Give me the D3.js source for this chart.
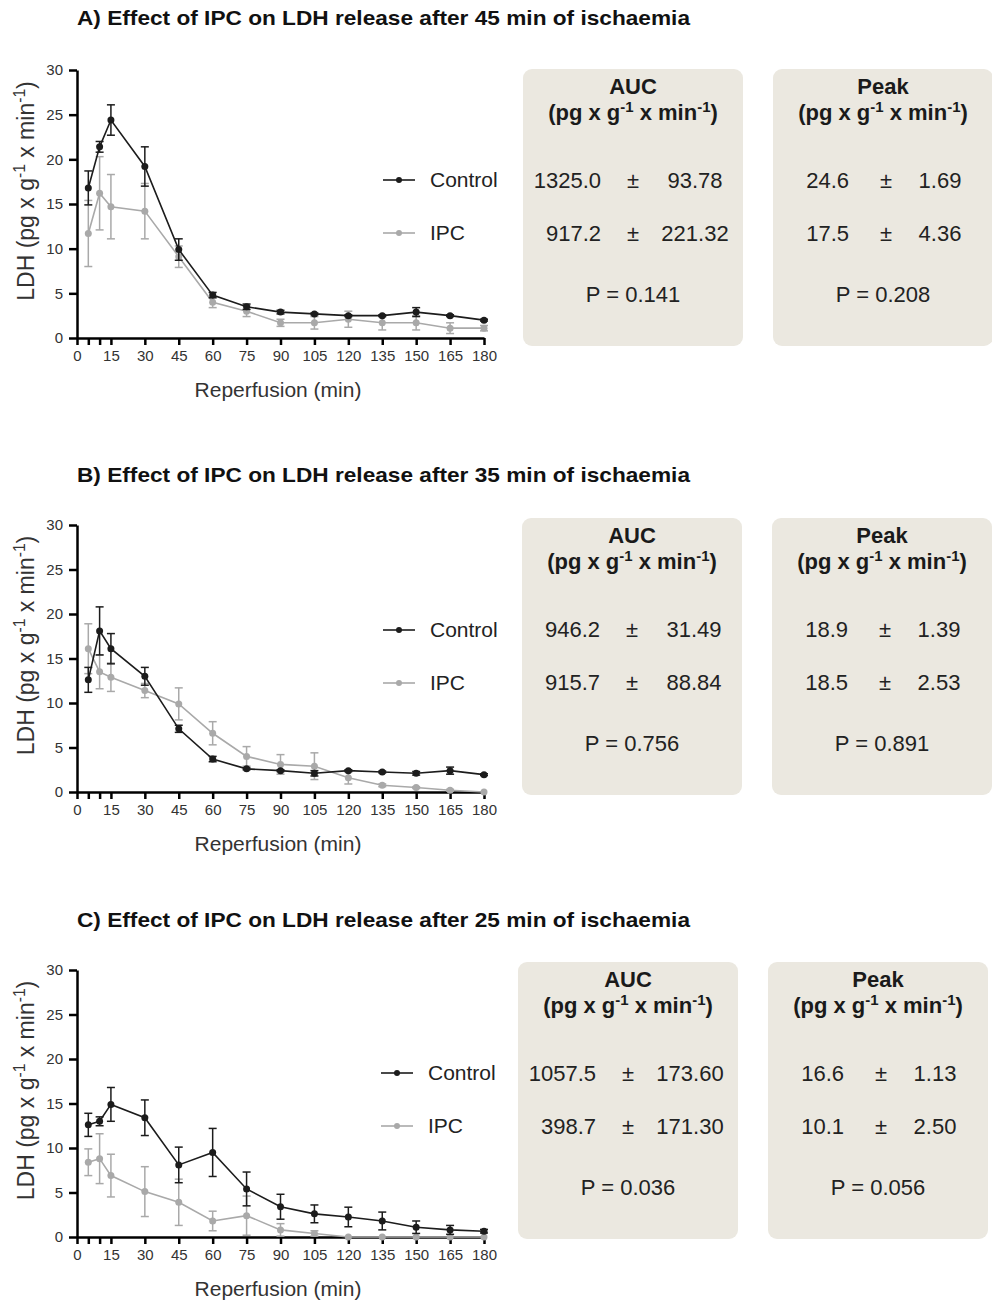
<!DOCTYPE html>
<html>
<head>
<meta charset="utf-8">
<script src="https://cdn.jsdelivr.net/npm/d3@7"></script>
<style>
body { margin: 0; background: #fff; }
text { font-family: "Liberation Sans", Arial, sans-serif; }
</style>
</head>
<body>
<svg id="fig" width="992" height="1304"></svg>
<script>
// reperfusion sampling times (min)
var times = [5, 10, 15, 30, 45, 60, 75, 90, 105, 120, 135, 150, 165, 180];
var xTicks = [0, 5, 10, 15, 30, 45, 60, 75, 90, 105, 120, 135, 150, 165, 180];
var yTicks = [0, 5, 10, 15, 20, 25, 30];

var titles = [
	"A) Effect of IPC on LDH release after 45 min of ischaemia",
	"B) Effect of IPC on LDH release after 35 min of ischaemia",
	"C) Effect of IPC on LDH release after 25 min of ischaemia"
];
var groups = ["Control", "IPC"];

// LDH, mean and SEM
var ctrl45 = [16.8, 21.4, 24.4, 19.2, 9.9, 4.8, 3.5, 2.9, 2.7, 2.5, 2.5, 2.9, 2.5, 2.0];
var ctrl45Sem = [1.9, 0.6, 1.7, 2.2, 1.2, 0.3, 0.3, 0.2, 0.1, 0.1, 0.1, 0.5, 0.1, 0.1];
var ipc45 = [11.7, 16.2, 14.7, 14.2, 9.1, 4.0, 3.0, 1.7, 1.7, 2.1, 1.7, 1.7, 1.1, 1.1];
var ipc45Sem = [3.7, 4.1, 3.6, 3.1, 1.2, 0.6, 0.6, 0.4, 0.7, 0.9, 0.8, 0.8, 0.6, 0.3];

var ctrl35 = [12.6, 18.1, 16.1, 13.0, 7.1, 3.7, 2.6, 2.4, 2.1, 2.4, 2.25, 2.1, 2.4, 1.95];
var ctrl35Sem = [1.4, 2.7, 1.7, 1.0, 0.4, 0.3, 0.1, 0.1, 0.3, 0.1, 0.1, 0.2, 0.4, 0.1];
var ipc35 = [16.1, 13.5, 12.9, 11.4, 9.9, 6.6, 4.0, 3.1, 2.9, 1.6, 0.75, 0.5, 0.2, 0.0];
var ipc35Sem = [2.8, 1.9, 1.6, 0.8, 1.8, 1.3, 1.1, 1.1, 1.5, 0.7, 0.15, 0.1, 0.1, 0];

var ctrl25 = [12.6, 13.0, 14.9, 13.4, 8.1, 9.5, 5.4, 3.4, 2.6, 2.25, 1.8, 1.1, 0.8, 0.65];
var ctrl25Sem = [1.3, 0.5, 1.9, 2.0, 2.0, 2.7, 1.9, 1.4, 1.0, 1.1, 1.0, 0.7, 0.5, 0.2];
var ipc25 = [8.4, 8.8, 6.9, 5.1, 3.9, 1.8, 2.4, 0.8, 0.4, 0.0, 0.0, 0.0, 0.0, 0.0];
var ipc25Sem = [1.5, 2.8, 2.4, 2.8, 2.6, 1.1, 2.2, 0.7, 0.3, 0, 0, 0, 0, 0];

// summary tables (AUC and peak, mean ± SEM, P values)
var aucCtrl = [1325.0, 946.2, 1057.5];
var aucCtrlSem = [93.78, 31.49, 173.60];
var aucIpc = [917.2, 915.7, 398.7];
var aucIpcSem = [221.32, 88.84, 171.30];
var aucP = [0.141, 0.756, 0.036];
var peakCtrl = [24.6, 18.9, 16.6];
var peakCtrlSem = [1.69, 1.39, 1.13];
var peakIpc = [17.5, 18.5, 10.1];
var peakIpcSem = [4.36, 2.53, 2.50];
var peakP = [0.208, 0.891, 0.056];

var series = [
	[[ipc45, ipc45Sem], [ctrl45, ctrl45Sem]],
	[[ipc35, ipc35Sem], [ctrl35, ctrl35Sem]],
	[[ipc25, ipc25Sem], [ctrl25, ctrl25Sem]]
];

// page layout
var panels = [
	{ titleY: 25, top: 70, bottom: 338, legendY: 180, boxY: 69, aucX: 523, peakX: 773 },
	{ titleY: 482, top: 525, bottom: 792, legendY: 630, boxY: 518, aucX: 522, peakX: 772 },
	{ titleY: 927, top: 970, bottom: 1237, legendY: 1073, boxY: 962, aucX: 518, peakX: 768 }
];
var colors = ["#a9a9a9", "#1c1c1c"]; // IPC, Control

var svg = d3.select("#fig");
svg.append("rect").attr("width", 992).attr("height", 1304).attr("fill", "#fff");

var x = d3.scaleLinear().domain([0, 180]).range([77, 484]);
var f1 = d3.format(".1f"), f2 = d3.format(".2f"), f3 = d3.format(".3f");

// text with superscript -1 parts
function unitText(sel, parts, size) {
	parts.forEach(function (p) {
		if (p[1]) {
			sel.append("tspan").attr("font-size", size * 0.68).attr("dy", -size * 0.38).text(p[0]);
		} else {
			var t = sel.append("tspan").text(p[0]);
			if (p[2]) t.attr("dy", size * 0.38);
		}
	});
}
var unitParts = [["(pg x g", 0], ["-1", 1], [" x min", 0, 1], ["-1", 1], [")", 0, 1]];

panels.forEach(function (p, i) {
	var g = svg.append("g");
	var y = d3.scaleLinear().domain([0, 30]).range([p.bottom, p.top]);

	g.append("text")
		.attr("x", 77).attr("y", p.titleY)
		.style("font-family", "'Liberation Sans Narrow', 'Arial Narrow', 'Liberation Sans', sans-serif")
		.attr("font-weight", "bold").attr("font-size", 21)
		.attr("textLength", 613).attr("lengthAdjust", "spacingAndGlyphs")
		.attr("fill", "#111")
		.text(titles[i]);

	// axes
	var xAxis = d3.axisBottom(x).tickValues(xTicks).tickSize(7).tickPadding(5).tickSizeOuter(0)
		.tickFormat(function (d) { return (d === 5 || d === 10) ? "" : d; });
	var yAxis = d3.axisLeft(y).tickValues(yTicks).tickSize(8).tickPadding(6).tickSizeOuter(0);

	var gx = g.append("g").attr("transform", "translate(0," + p.bottom + ")").call(xAxis);
	var gy = g.append("g").attr("transform", "translate(77,0)").call(yAxis);
	[gx, gy].forEach(function (a) {
		a.select(".domain").attr("stroke", "#000").attr("stroke-width", 2.5);
		a.selectAll(".tick line").attr("stroke", "#000").attr("stroke-width", 2.5);
		a.selectAll(".tick text").attr("font-size", 15).attr("fill", "#333")
			.style("font-family", "'Liberation Sans', Arial, sans-serif");
	});

	g.append("text")
		.attr("x", 278).attr("y", p.bottom + 59)
		.attr("text-anchor", "middle").attr("font-size", 21).attr("fill", "#333")
		.text("Reperfusion (min)");

	var yl = g.append("text")
		.attr("transform", "translate(34," + ((p.top + p.bottom) / 2 - 13) + ") rotate(-90)")
		.attr("text-anchor", "middle").attr("font-size", 23).attr("fill", "#333");
	unitText(yl, [["LDH (pg x g", 0], ["-1", 1], [" x min", 0, 1], ["-1", 1], [")", 0, 1]], 23);

	// data: IPC first, Control on top
	series[i].forEach(function (s, k) {
		var mean = s[0], sem = s[1], col = colors[k];
		var pts = times.map(function (t, j) { return { t: t, m: mean[j], e: sem[j] }; });
		var sg = g.append("g");

		var eb = sg.selectAll(".err").data(pts.filter(function (d) { return d.e > 0; }))
			.enter().append("g").attr("class", "err")
			.attr("stroke", col).attr("stroke-width", 1.5);
		eb.append("line")
			.attr("x1", function (d) { return x(d.t); }).attr("x2", function (d) { return x(d.t); })
			.attr("y1", function (d) { return y(Math.max(0, d.m - d.e)); }).attr("y2", function (d) { return y(d.m + d.e); });
		eb.append("line")
			.attr("x1", function (d) { return x(d.t) - 4; }).attr("x2", function (d) { return x(d.t) + 4; })
			.attr("y1", function (d) { return y(d.m + d.e); }).attr("y2", function (d) { return y(d.m + d.e); });
		eb.append("line")
			.attr("x1", function (d) { return x(d.t) - 4; }).attr("x2", function (d) { return x(d.t) + 4; })
			.attr("y1", function (d) { return y(Math.max(0, d.m - d.e)); }).attr("y2", function (d) { return y(Math.max(0, d.m - d.e)); });

		var line = d3.line().x(function (d) { return x(d.t); }).y(function (d) { return y(d.m); });
		sg.append("path").datum(pts).attr("d", line)
			.attr("fill", "none").attr("stroke", col).attr("stroke-width", 1.6);
		sg.selectAll("circle").data(pts).enter().append("circle")
			.attr("cx", function (d) { return x(d.t); }).attr("cy", function (d) { return y(d.m); })
			.attr("r", 3.5).attr("fill", col);
	});

	// legend
	groups.forEach(function (name, k) {
		var col = colors[1 - k];
		var ly = p.legendY + k * 53;
		var lx = (i === 2) ? 381 : 383;
		g.append("line").attr("x1", lx).attr("x2", lx + 32).attr("y1", ly).attr("y2", ly)
			.attr("stroke", col).attr("stroke-width", 1.6);
		g.append("circle").attr("cx", lx + 16).attr("cy", ly).attr("r", 3).attr("fill", col);
		g.append("text").attr("x", lx + 47).attr("y", ly + 7)
			.attr("font-size", 21).attr("fill", "#222").text(name);
	});

	// summary boxes
	var boxes = [
		{ x: p.aucX, name: "AUC", rows: [[f1(aucCtrl[i]), f2(aucCtrlSem[i])], [f1(aucIpc[i]), f2(aucIpcSem[i])]],
			pv: aucP[i], c1: 78, pm: 110, c3: 172 },
		{ x: p.peakX, name: "Peak", rows: [[f1(peakCtrl[i]), f2(peakCtrlSem[i])], [f1(peakIpc[i]), f2(peakIpcSem[i])]],
			pv: peakP[i], c1: 76, pm: 113, c3: 167 }
	];
	boxes.forEach(function (b) {
		var bg = g.append("g").attr("transform", "translate(" + b.x + "," + p.boxY + ")");
		bg.append("rect").attr("width", 220).attr("height", 277).attr("rx", 9)
			.attr("fill", "#ebe8e0");
		bg.append("text").attr("x", 110).attr("y", 25).attr("text-anchor", "middle")
			.attr("font-size", 22).attr("font-weight", "bold").attr("fill", "#1a1a1a").text(b.name);
		var ut = bg.append("text").attr("x", 110).attr("y", 51).attr("text-anchor", "middle")
			.attr("font-size", 22).attr("font-weight", "bold").attr("fill", "#1a1a1a");
		unitText(ut, unitParts, 22);
		b.rows.forEach(function (r, k) {
			var ry = 119 + k * 53;
			bg.append("text").attr("x", b.c1).attr("y", ry).attr("text-anchor", "end")
				.attr("font-size", 22).attr("fill", "#222").text(r[0]);
			bg.append("text").attr("x", b.pm).attr("y", ry).attr("text-anchor", "middle")
				.attr("font-size", 22).attr("fill", "#222").text("±");
			bg.append("text").attr("x", b.c3).attr("y", ry).attr("text-anchor", "middle")
				.attr("font-size", 22).attr("fill", "#222").text(r[1]);
		});
		bg.append("text").attr("x", 110).attr("y", 233).attr("text-anchor", "middle")
			.attr("font-size", 22).attr("fill", "#222").text("P = " + f3(b.pv));
	});
});
</script>
</body>
</html>
